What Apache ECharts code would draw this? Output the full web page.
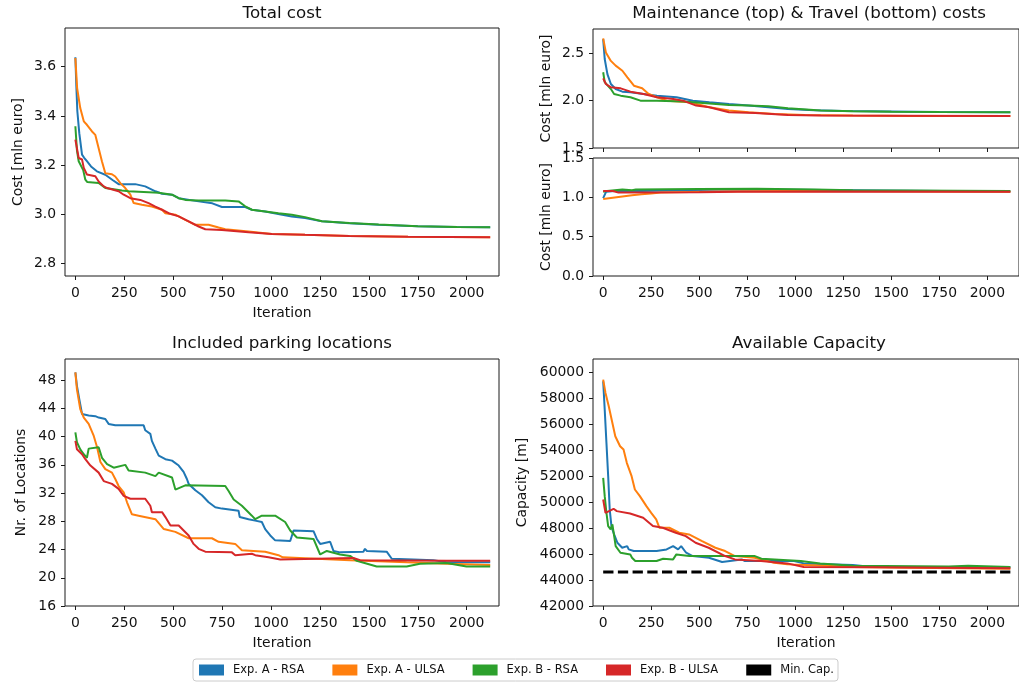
<!DOCTYPE html>
<html>
<head>
<meta charset="utf-8">
<script src="https://cdn.jsdelivr.net/npm/echarts@6/dist/echarts.min.js"></script>
<style>
  html, body { margin: 0; padding: 0; background: #fff; }
  #chart { width: 1019px; height: 684px; }
</style>
</head>
<body>
<div id="chart"></div>
<script>
// ---- Series names ----
const seriesNames = ['Exp. A - RSA', 'Exp. A - ULSA', 'Exp. B - RSA', 'Exp. B - ULSA'];
const minCapName = 'Min. Cap.';

// ---- Tick values ----
const iterationTicks = [0, 250, 500, 750, 1000, 1250, 1500, 1750, 2000];
const totalCostTicks = [2.8, 3.0, 3.2, 3.4, 3.6];
const maintenanceTicks = [1.5, 2.0, 2.5];
const travelTicks = [0.0, 0.5, 1.0, 1.5];
const locationTicks = [16, 20, 24, 28, 32, 36, 40, 44, 48];
const capacityTicks = [42000, 44000, 46000, 48000, 50000, 52000, 54000, 56000, 58000, 60000];

// ---- Total cost [mln euro] per iteration ----
const totalA_RSA = [[0,3.638],[5,3.52],[10,3.42],[20,3.33],[34,3.243],[45,3.23],[59,3.216],[80,3.195],[110,3.175],[153,3.161],[190,3.14],[221,3.123],[306,3.123],[357,3.114],[409,3.094],[443,3.084],[494,3.080],[528,3.066],[630,3.053],[700,3.045],[749,3.030],[868,3.030],[902,3.019],[970,3.012],[1050,3.00],[1106,2.992],[1174,2.985],[1260,2.972],[1400,2.964],[1550,2.958],[1750,2.952],[1950,2.949],[2120,2.948]];
const totalA_ULSA = [[0,3.635],[9,3.513],[25,3.432],[43,3.378],[59,3.364],[85,3.337],[102,3.323],[119,3.269],[136,3.215],[153,3.167],[187,3.163],[204,3.154],[230,3.127],[255,3.107],[281,3.080],[298,3.046],[340,3.039],[391,3.032],[443,3.019],[460,3.005],[511,2.999],[562,2.978],[613,2.958],[681,2.958],[732,2.947],[766,2.940],[885,2.931],[1004,2.921],[1174,2.917],[1400,2.912],[1700,2.909],[2120,2.907]];
const totalB_RSA = [[0,3.358],[8,3.26],[17,3.216],[40,3.18],[51,3.141],[60,3.132],[119,3.128],[153,3.107],[238,3.097],[272,3.094],[426,3.088],[494,3.080],[528,3.066],[562,3.059],[630,3.057],[766,3.057],[834,3.053],[868,3.033],[902,3.019],[1038,3.005],[1106,2.999],[1174,2.989],[1260,2.972],[1400,2.965],[1550,2.959],[1750,2.952],[1950,2.949],[2120,2.948]];
const totalB_ULSA = [[0,3.304],[17,3.229],[34,3.223],[43,3.189],[59,3.162],[102,3.155],[119,3.134],[145,3.114],[162,3.107],[221,3.094],[247,3.080],[281,3.066],[332,3.059],[374,3.046],[409,3.032],[443,3.019],[477,3.005],[528,2.992],[579,2.972],[630,2.951],[664,2.940],[749,2.937],[885,2.928],[1004,2.921],[1174,2.917],[1400,2.912],[1700,2.909],[2120,2.907]];

// ---- Maintenance cost [mln euro] ----
const maintA_RSA = [[0,2.65],[8,2.44],[22,2.28],[40,2.176],[65,2.123],[100,2.095],[142,2.088],[210,2.071],[280,2.053],[382,2.036],[467,2.0],[553,1.983],[655,1.965],[757,1.948],[860,1.93],[962,1.912],[1099,1.90],[1250,1.89],[1500,1.885],[1750,1.88],[2120,1.878]];
const maintA_ULSA = [[0,2.658],[14,2.51],[40,2.42],[65,2.37],[100,2.316],[126,2.247],[160,2.158],[203,2.131],[237,2.071],[280,2.036],[331,2.0],[450,1.983],[553,1.93],[655,1.895],[757,1.877],[894,1.86],[1050,1.849],[1300,1.843],[1600,1.838],[2120,1.838]];
const maintB_RSA = [[0,2.30],[8,2.195],[40,2.123],[57,2.071],[91,2.053],[142,2.036],[194,2.0],[280,2.0],[416,1.99],[519,1.976],[655,1.955],[757,1.948],[860,1.94],[962,1.92],[1133,1.895],[1300,1.887],[1500,1.883],[1750,1.88],[2120,1.878]];
const maintB_ULSA = [[0,2.236],[14,2.176],[40,2.141],[91,2.13],[142,2.095],[210,2.071],[280,2.036],[365,2.018],[416,2.0],[484,1.948],[553,1.93],[655,1.877],[792,1.87],[962,1.849],[1133,1.842],[1500,1.84],[2120,1.839]];

// ---- Travel cost [mln euro] ----
const travelA_RSA = [[0,0.99],[15,1.07],[60,1.08],[200,1.08],[400,1.09],[700,1.10],[1000,1.095],[1300,1.09],[1600,1.085],[2120,1.075]];
const travelA_ULSA = [[0,0.98],[50,0.995],[100,1.01],[150,1.025],[200,1.04],[250,1.05],[300,1.06],[600,1.075],[1000,1.08],[2120,1.07]];
const travelB_RSA = [[0,1.07],[20,1.08],[60,1.09],[100,1.10],[150,1.09],[170,1.10],[500,1.105],[800,1.11],[1100,1.10],[1300,1.09],[2120,1.08]];
const travelB_ULSA = [[0,1.08],[50,1.08],[80,1.06],[500,1.065],[700,1.07],[1100,1.075],[2120,1.07]];

// ---- Number of included parking locations ----
const locA_RSA = [[0,49.1],[8,47.2],[20,45.3],[34,43.2],[68,43.0],[102,42.9],[119,42.7],[153,42.5],[170,41.8],[204,41.6],[349,41.6],[357,40.9],[383,40.4],[391,39.4],[409,38.3],[426,37.3],[460,36.8],[494,36.6],[528,35.9],[553,35.0],[570,34.0],[579,33.3],[613,32.4],[647,31.7],[681,30.7],[715,30.0],[749,29.8],[834,29.5],[840,28.6],[885,28.3],[919,28.1],[953,27.9],[970,26.9],[996,26.0],[1021,25.3],[1098,25.2],[1115,26.7],[1217,26.6],[1234,25.5],[1251,24.8],[1302,25.1],[1319,23.8],[1353,23.6],[1472,23.7],[1480,24.1],[1490,23.8],[1591,23.7],[1617,22.7],[1727,22.6],[1829,22.5],[1897,22.2],[2120,22.2]];
const locA_ULSA = [[0,49.1],[8,46.7],[25,43.9],[43,42.7],[68,41.8],[94,40.1],[111,38.5],[128,36.4],[153,35.4],[187,34.9],[204,34.0],[221,33.0],[247,32.1],[264,30.7],[289,29.0],[323,28.8],[409,28.3],[452,26.9],[511,26.5],[579,25.6],[698,25.6],[732,25.1],[817,24.8],[851,23.9],[970,23.7],[1038,23.2],[1060,22.9],[1404,22.5],[1693,22.2],[1900,22.0],[2120,21.8]];
const locB_RSA = [[0,40.6],[8,39.2],[25,38.2],[43,37.5],[59,37.0],[68,38.3],[119,38.5],[136,37.0],[162,36.1],[196,35.6],[255,36.0],[272,35.2],[357,34.9],[409,34.4],[426,34.9],[494,34.2],[511,32.5],[562,33.1],[766,33.0],[783,32.3],[809,31.1],[851,30.2],[902,28.8],[919,28.3],[953,28.8],[1021,28.8],[1072,27.9],[1098,26.7],[1132,25.7],[1217,25.5],[1251,23.3],[1285,23.8],[1353,23.3],[1404,23.1],[1438,22.4],[1540,21.6],[1693,21.6],[1761,22.0],[1897,22.1],[1999,21.6],[2120,21.6]];
const locB_ULSA = [[0,39.4],[8,38.2],[34,37.5],[51,36.8],[77,35.9],[119,34.9],[145,33.7],[187,33.3],[221,32.6],[247,31.6],[281,31.2],[357,31.2],[383,30.2],[391,29.3],[443,29.3],[460,28.6],[486,27.4],[528,27.4],[579,26.0],[604,24.8],[630,24.1],[664,23.7],[800,23.6],[817,23.2],[902,23.4],[919,23.2],[987,22.9],[1047,22.6],[1421,22.8],[1455,22.5],[1897,22.4],[2120,22.4]];

// ---- Available capacity [m] ----
const capA_RSA = [[0,59308],[8,57128],[17,54564],[26,52000],[34,49436],[43,48154],[48,47897],[57,47513],[74,46872],[99,46487],[125,46615],[133,46359],[159,46231],[278,46231],[330,46359],[364,46615],[390,46359],[406,46615],[432,46103],[466,45846],[551,45718],[619,45385],[721,45590],[738,45462],[994,45462],[1044,45282],[1163,45206],[1300,45150],[1400,45000],[2120,44980]];
const capA_ULSA = [[0,59436],[12,58410],[29,57385],[46,56231],[63,55077],[88,54308],[106,54051],[123,53026],[148,52000],[165,50974],[191,50462],[225,49692],[250,49179],[276,48667],[293,48026],[344,48026],[396,47641],[447,47513],[515,47000],[584,46487],[635,46231],[686,45846],[788,45718],[890,45334],[959,45206],[1129,45128],[1300,45000],[1600,44950],[2120,44870]];
const capB_RSA = [[0,51872],[8,50462],[17,49180],[26,48154],[39,47897],[48,48282],[65,46615],[90,46103],[141,45974],[150,45718],[167,45462],[278,45462],[312,45641],[364,45590],[381,45974],[449,45846],[790,45846],[824,45641],[892,45590],[1029,45462],[1130,45282],[1300,45100],[1800,45050],[1900,45100],[2120,45000]];
const capB_ULSA = [[0,50206],[12,49180],[54,49487],[71,49308],[140,49128],[208,48795],[259,48154],[310,48026],[378,47641],[430,47385],[481,46872],[549,46487],[635,45846],[686,45590],[822,45462],[959,45282],[1044,45000],[1400,44980],[2120,44900]];
const minCapacity = 44620;
const minCapRange = [0, 2120];

// ---- Styling ----
const FONT = 'DejaVu Sans';
const COLORS = ['#1f77b4', '#ff7f0e', '#2ca02c', '#d62728'];
const X_MIN = -53, X_MAX = 2165;

const grids = [
  { left: 65,  top: 28,  width: 434, height: 248 },  // total cost
  { left: 593, top: 29,  width: 433, height: 119 },  // maintenance
  { left: 593, top: 158, width: 433, height: 118 },  // travel
  { left: 65,  top: 359, width: 434, height: 247 },  // locations
  { left: 593, top: 359, width: 433, height: 247 }   // capacity
].map(g => Object.assign({ show: true, borderColor: '#1a1a1a', borderWidth: 1, backgroundColor: '#fff' }, g));

const tickFont = { color: '#111', fontFamily: FONT, fontSize: 13.9 };
const nameFont = { color: '#111', fontFamily: FONT, fontSize: 13.9 };
const f1 = v => v.toFixed(1);
const f0 = v => String(Math.round(v));

function xAxis(gridIndex, showLabels, showName) {
  return {
    type: 'value', gridIndex, min: X_MIN, max: X_MAX,
    axisLine: { show: false, onZero: false }, splitLine: { show: false },
    axisTick: { show: true, inside: false, length: 4, lineStyle: { color: '#1a1a1a' }, customValues: iterationTicks },
    axisLabel: Object.assign({ show: showLabels, margin: 10, customValues: iterationTicks, formatter: f0 }, tickFont),
    name: showName ? 'Iteration' : '', nameLocation: 'middle', nameGap: 30,
    nameMoveOverlap: false,
    nameTextStyle: nameFont
  };
}

function yAxis(gridIndex, min, max, ticks, fmt, name, gap) {
  return {
    type: 'value', gridIndex, min, max,
    axisLine: { show: false, onZero: false }, splitLine: { show: false },
    axisTick: { show: true, inside: false, length: 4, lineStyle: { color: '#1a1a1a' }, customValues: ticks },
    axisLabel: Object.assign({ margin: 9, customValues: ticks, formatter: fmt }, tickFont),
    name, nameLocation: 'middle', nameGap: gap,
    nameMoveOverlap: false,
    nameTextStyle: nameFont
  };
}

const panelData = [
  [totalA_RSA, totalA_ULSA, totalB_RSA, totalB_ULSA],
  [maintA_RSA, maintA_ULSA, maintB_RSA, maintB_ULSA],
  [travelA_RSA, travelA_ULSA, travelB_RSA, travelB_ULSA],
  [locA_RSA, locA_ULSA, locB_RSA, locB_ULSA],
  [capA_RSA, capA_ULSA, capB_RSA, capB_ULSA]
];

const series = [];
panelData.forEach((group, gi) => {
  group.forEach((data, si) => {
    series.push({
      type: 'line', name: seriesNames[si], data,
      xAxisIndex: gi, yAxisIndex: gi,
      showSymbol: false, symbol: 'none',
      lineStyle: { color: COLORS[si], width: 2 },
      itemStyle: { color: COLORS[si] },
      clip: true, animation: false
    });
  });
});
series.push({
  type: 'line', name: minCapName,
  data: minCapRange.map(x => [x, minCapacity]),
  xAxisIndex: 4, yAxisIndex: 4, showSymbol: false, symbol: 'none',
  lineStyle: { color: '#000', width: 2.8, type: [10.3, 4.4] },
  itemStyle: { color: '#000' }, clip: true, animation: false, z: 3
});

const titles = [
  { text: 'Total cost', x: 282, y: 14 },
  { text: 'Maintenance (top) & Travel (bottom) costs', x: 809, y: 14 },
  { text: 'Included parking locations', x: 282, y: 344 },
  { text: 'Available Capacity', x: 809, y: 344 }
];

const option = {
  backgroundColor: '#fff',
  animation: false,
  grid: grids,
  xAxis: [xAxis(0, true, true), xAxis(1, false, false), xAxis(2, true, false), xAxis(3, true, true), xAxis(4, true, true)],
  yAxis: [
    yAxis(0, 2.75, 3.757, totalCostTicks, f1, 'Cost [mln euro]', 40),
    yAxis(1, 1.5, 2.757, maintenanceTicks, f1, 'Cost [mln euro]', 40),
    yAxis(2, 0, 1.5, travelTicks, f1, 'Cost [mln euro]', 40),
    yAxis(3, 16, 51, locationTicks, f0, 'Nr. of Locations', 37),
    yAxis(4, 42000, 61024, capacityTicks, f0, 'Capacity [m]', 64)
  ],
  legend: {
    data: seriesNames.concat([minCapName]),
    top: 659, left: 193,
    icon: 'rect', itemWidth: 25, itemHeight: 11, itemGap: 28,
    textStyle: { color: '#111', fontFamily: FONT, fontSize: 11.5, padding: [0, 0, 0, 4] },
    borderColor: '#cccccc', borderWidth: 1, borderRadius: 3,
    padding: [5, 4, 5, 6], backgroundColor: '#fff',
    selectedMode: false
  },
  graphic: titles.map(t => ({
    type: 'text', x: t.x, y: t.y,
    style: { text: t.text, fill: '#111', font: '16.7px "DejaVu Sans"', textAlign: 'center', textVerticalAlign: 'middle' }
  })),
  series
};

const chart = echarts.init(document.getElementById('chart'), null, { renderer: 'canvas' });
chart.setOption(option);
</script>
</body>
</html>
